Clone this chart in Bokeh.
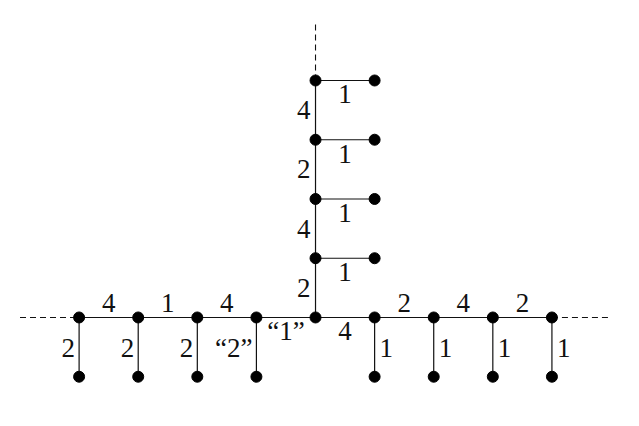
from bokeh.plotting import figure
from bokeh.models import Range1d, ColumnDataSource
from bokeh.core.properties import value
from bokeh.embed import file_html
from bokeh.resources import INLINE

# ---- graph data (grid units: one step = one edge) ----
spine_x = [-4, -3, -2, -1, 0, 1, 2, 3, 4]          # horizontal spine at y = 0
spine_w = ["4", "1", "4", "\u201c1\u201d", "4", "2", "4", "2"]
spine_side = ["above", "above", "above", "below", "below", "above", "above", "above"]

pend_x = [-4, -3, -2, -1, 1, 2, 3, 4]             # pendants hanging to y = -1
pend_w = ["2", "2", "2", "\u201c2\u201d", "1", "1", "1", "1"]
pend_side = ["left", "left", "left", "left", "right", "right", "right", "right"]

vert_y = [0, 1, 2, 3, 4]                           # vertical spine at x = 0
vert_w = ["2", "4", "2", "4"]

arm_y = [1, 2, 3, 4]                               # arms going right to x = 1
arm_w = ["1", "1", "1", "1"]

dash_left = [-5, -4]
dash_right = [4, 5]
dash_top = [4, 5]

INK = "#111111"
FONT = "Liberation Serif"

p = figure(width=623, height=410, output_backend="svg", toolbar_location=None,
           x_range=Range1d(-5.33, 5.211), y_range=Range1d(-1.570, 5.350),
           min_border=0)
p.axis.visible = False
p.grid.visible = False
p.outline_line_color = None

# solid edges
xs, ys = [], []
for a, b in zip(spine_x[:-1], spine_x[1:]):
    xs.append([a, b]); ys.append([0, 0])
for x in pend_x:
    xs.append([x, x]); ys.append([0, -1])
for a, b in zip(vert_y[:-1], vert_y[1:]):
    xs.append([0, 0]); ys.append([a, b])
for y in arm_y:
    xs.append([0, 1]); ys.append([y, y])
p.multi_line(xs=xs, ys=ys, line_color=INK, line_width=1.2)

# dashed continuations
p.multi_line(xs=[dash_left, dash_right, [0, 0]], ys=[[0, 0], [0, 0], dash_top],
             line_color=INK, line_width=1.1, line_dash="6 4")

# nodes
nx = list(spine_x) + list(pend_x) + [0] * (len(vert_y) - 1) + [1] * len(arm_y)
ny = [0] * len(spine_x) + [-1] * len(pend_x) + vert_y[1:] + arm_y
p.scatter(nx, ny, size=11, fill_color="black", line_color="black")

# labels
lx, ly, lt, la, xo, yo = [], [], [], [], [], []
for (a, b), w, s in zip(zip(spine_x[:-1], spine_x[1:]), spine_w, spine_side):
    lx.append((a + b) / 2); ly.append(0); lt.append(w); la.append("center")
    xo.append(0); yo.append(-14 if s == "above" else 14)
for x, w, s in zip(pend_x, pend_w, pend_side):
    lx.append(x); ly.append(-0.5); lt.append(w)
    la.append("right" if s == "left" else "left")
    xo.append(-4 if s == "left" else 5); yo.append(1)
for (a, b), w in zip(zip(vert_y[:-1], vert_y[1:]), vert_w):
    lx.append(0); ly.append((a + b) / 2); lt.append(w); la.append("right")
    xo.append(-5); yo.append(0)
for y, w in zip(arm_y, arm_w):
    lx.append(0.5); ly.append(y); lt.append(w); la.append("center")
    xo.append(0); yo.append(14)

src = ColumnDataSource(dict(x=lx, y=ly, t=lt, a=la, xo=xo, yo=yo))
p.text(x="x", y="y", text="t", text_align="a", x_offset="xo", y_offset="yo",
       text_baseline="middle", source=src, text_font=value(FONT),
       text_font_size="27px", text_color=INK)

open("out.html", "w").write(file_html(p, INLINE))
